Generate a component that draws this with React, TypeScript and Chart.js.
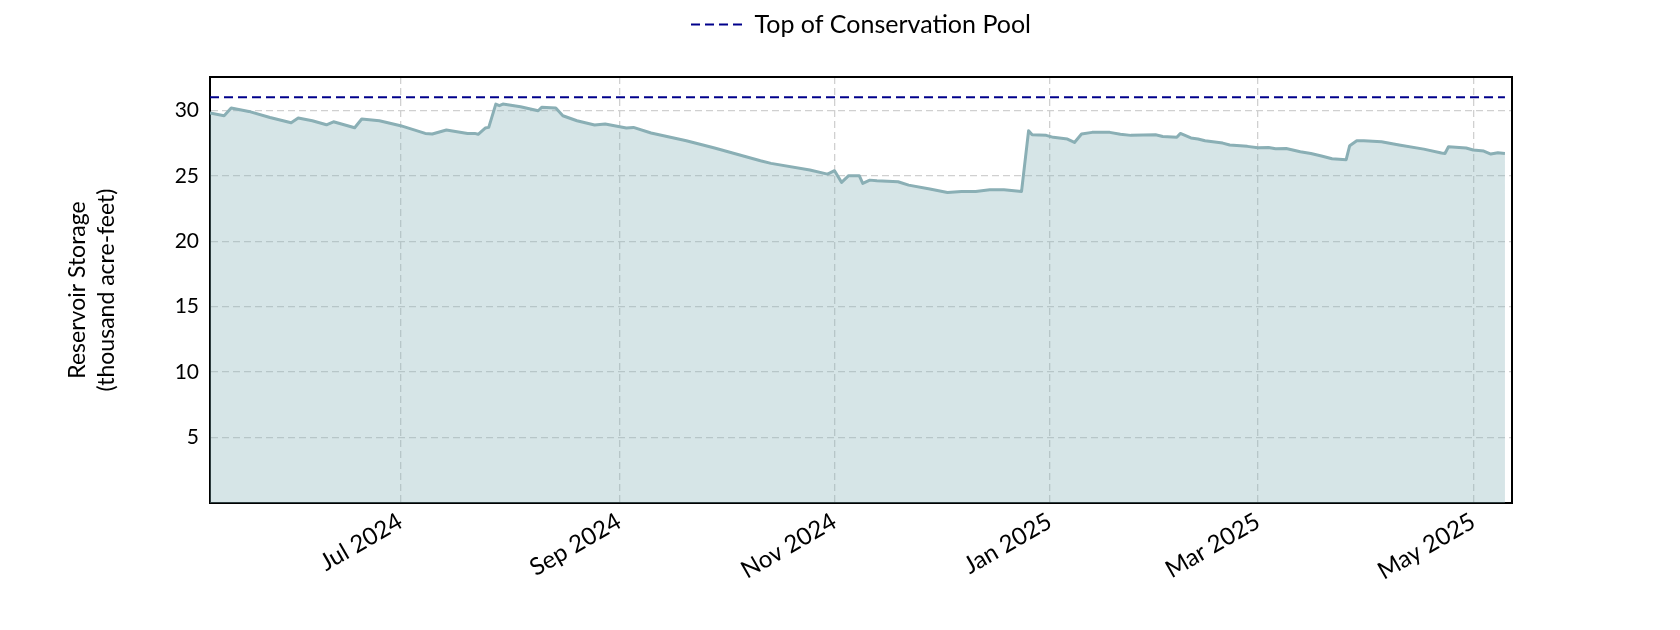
import { useEffect, useRef } from 'react';
import { Chart, registerables } from 'chart.js';

Chart.register(...registerables);

const storageDates = [
  '2024-05-08', '2024-05-12', '2024-05-14', '2024-05-19', '2024-05-25', '2024-05-31',
  '2024-06-02', '2024-06-06', '2024-06-10', '2024-06-12', '2024-06-18', '2024-06-20',
  '2024-06-25', '2024-07-01', '2024-07-08', '2024-07-10', '2024-07-14', '2024-07-20',
  '2024-07-22', '2024-07-23', '2024-07-25', '2024-07-26', '2024-07-28', '2024-07-29',
  '2024-07-30', '2024-08-04', '2024-08-09', '2024-08-10', '2024-08-14', '2024-08-16',
  '2024-08-20', '2024-08-25', '2024-08-28', '2024-09-03', '2024-09-05', '2024-09-10',
  '2024-09-20', '2024-09-28', '2024-10-11', '2024-10-14', '2024-10-25', '2024-10-30',
  '2024-11-01', '2024-11-03', '2024-11-05', '2024-11-08', '2024-11-09', '2024-11-11',
  '2024-11-13', '2024-11-19', '2024-11-22', '2024-11-28', '2024-12-03', '2024-12-07',
  '2024-12-11', '2024-12-15', '2024-12-19', '2024-12-24', '2024-12-26', '2024-12-27',
  '2024-12-31', '2025-01-02', '2025-01-06', '2025-01-08', '2025-01-10', '2025-01-13',
  '2025-01-18', '2025-01-21', '2025-01-24', '2025-01-31', '2025-02-02', '2025-02-06',
  '2025-02-07', '2025-02-10', '2025-02-12', '2025-02-14', '2025-02-19', '2025-02-21',
  '2025-02-26', '2025-03-01', '2025-03-04', '2025-03-06', '2025-03-09', '2025-03-13',
  '2025-03-16', '2025-03-19', '2025-03-22', '2025-03-26', '2025-03-27', '2025-03-29',
  '2025-03-31', '2025-04-05', '2025-04-10', '2025-04-17', '2025-04-22', '2025-04-23',
  '2025-04-24', '2025-04-29', '2025-05-01', '2025-05-04', '2025-05-06', '2025-05-08',
  '2025-05-10',
];

const storageValues = [
  29.80, 29.59, 30.18, 29.92, 29.46, 29.06,
  29.41, 29.21, 28.90, 29.13, 28.67, 29.34,
  29.21, 28.83, 28.24, 28.19, 28.50, 28.24,
  28.24, 28.17, 28.65, 28.70, 30.48, 30.36,
  30.48, 30.28, 29.97, 30.23, 30.18, 29.59,
  29.21, 28.88, 28.96, 28.65, 28.70, 28.27,
  27.68, 27.12, 26.15, 25.95, 25.44, 25.13,
  25.39, 24.50, 25.01, 25.01, 24.42, 24.67,
  24.62, 24.55, 24.29, 23.99, 23.73, 23.81,
  23.81, 23.93, 23.93, 23.81, 28.45, 28.14,
  28.09, 27.94, 27.81, 27.55, 28.19, 28.32,
  28.32, 28.17, 28.09, 28.14, 28.01, 27.94,
  28.24, 27.89, 27.81, 27.68, 27.50, 27.35,
  27.25, 27.15, 27.17, 27.07, 27.09, 26.84,
  26.71, 26.51, 26.30, 26.23, 27.30, 27.68,
  27.68, 27.60, 27.35, 27.04, 26.74, 26.71,
  27.22, 27.12, 26.97, 26.89, 26.66, 26.76,
  26.71,
];

const poolLevel = 31.0;
const poolLabel = 'Top of Conservation Pool';
const storageLabel = 'Reservoir Storage';

const xTickDates = ['2024-07-01', '2024-09-01', '2024-11-01', '2025-01-01', '2025-03-01', '2025-05-01'];
const xTickLabels = ['Jul 2024', 'Sep 2024', 'Nov 2024', 'Jan 2025', 'Mar 2025', 'May 2025'];
const xRange = ['2024-05-08', '2025-05-12'];

const yTickValues = [5, 10, 15, 20, 25, 30];
const yRange = [0, 32.55];
const yTitle = ['Reservoir Storage', '(thousand acre-feet)'];

const FONT = 'Lato, "Noto Sans", sans-serif';
const POOL_DASH = [9, 5];
const GRID_DASH = [7, 4];

const dayNum = (s: string) => {
  const [y, m, d] = s.split('-').map(Number);
  return Date.UTC(y, m - 1, d) / 86400000;
};

export default function App() {
  const canvasRef = useRef<HTMLCanvasElement | null>(null);

  useEffect(() => {
    const canvas = canvasRef.current;
    if (!canvas) return;

    const storageData = storageDates.map((d, i) => ({ x: dayNum(d), y: storageValues[i] }));
    const poolData = [
      { x: dayNum(storageDates[0]), y: poolLevel },
      { x: dayNum(storageDates[storageDates.length - 1]), y: poolLevel },
    ];

    const gridStyle = {
      color: '#d0d0d0',
      lineWidth: 1.3,
      drawTicks: false,
      tickLength: 0,
    };

    const chart = new Chart(canvas, {
      type: 'line',
      data: {
        datasets: [
          {
            label: storageLabel,
            data: storageData,
            borderColor: '#8aafb5',
            backgroundColor: 'rgba(135, 178, 186, 0.34)',
            borderWidth: 3,
            pointRadius: 0,
            tension: 0,
            fill: 'origin',
            borderJoinStyle: 'round',
            order: 2,
          },
          {
            label: poolLabel,
            data: poolData,
            borderColor: '#00008b',
            backgroundColor: '#00008b',
            borderWidth: 2,
            borderDash: POOL_DASH,
            pointRadius: 0,
            fill: false,
            order: 1,
          },
        ],
      },
      options: {
        responsive: false,
        animation: false,
        layout: { padding: { top: 2, left: 0, right: 0, bottom: 0 } },
        plugins: {
          tooltip: { enabled: false },
          legend: {
            display: true,
            position: 'top',
            fullSize: false,
            labels: {
              filter: (item: any) => item.datasetIndex === 1,
              usePointStyle: true,
              pointStyle: 'line',
              pointStyleWidth: 51,
              padding: 10,
              color: '#000000',
              font: { family: FONT, size: 25 },
              generateLabels: (ch: any) => {
                const items = Chart.defaults.plugins.legend.labels.generateLabels(ch);
                return items.map((it: any) => {
                  const ds = ch.data.datasets[it.datasetIndex];
                  return {
                    ...it,
                    lineDash: ds.borderDash || [],
                    lineWidth: ds.borderWidth,
                    strokeStyle: ds.borderColor,
                    fillStyle: ds.borderColor,
                  };
                });
              },
            },
          },
        },
        scales: {
          x: {
            type: 'linear',
            position: 'bottom',
            min: dayNum(xRange[0]),
            max: dayNum(xRange[1]),
            afterBuildTicks: (scale: any) => {
              scale.ticks = xTickDates.map((d) => ({ value: dayNum(d) }));
            },
            afterFit: (scale: any) => {
              scale.height = 127;
            },
            ticks: {
              autoSkip: false,
              minRotation: 30,
              maxRotation: 30,
              padding: 4,
              color: '#000000',
              font: { family: FONT, size: 24 },
              callback: (_v: any, i: number) => xTickLabels[i],
            },
            grid: gridStyle,
            border: { display: true, color: '#000000', width: 2, dash: GRID_DASH },
          },
          x2: {
            type: 'linear',
            position: 'top',
            min: 0,
            max: 1,
            afterFit: (scale: any) => {
              scale.height = 30;
            },
            ticks: { display: false },
            grid: { display: false, drawTicks: false },
            border: { display: true, color: '#000000', width: 2 },
          },
          y: {
            type: 'linear',
            position: 'left',
            min: yRange[0],
            max: yRange[1],
            afterBuildTicks: (scale: any) => {
              scale.ticks = yTickValues.map((v) => ({ value: v }));
            },
            afterFit: (scale: any) => {
              scale.width = 210;
            },
            ticks: {
              padding: 11,
              color: '#000000',
              font: { family: FONT, size: 21 },
            },
            grid: gridStyle,
            border: { display: true, color: '#000000', width: 2, dash: GRID_DASH },
            title: {
              display: true,
              text: yTitle,
              color: '#000000',
              font: { family: FONT, size: 23, lineHeight: 29 / 23 },
              padding: { top: 63.5, bottom: 0 },
            },
          },
          y2: {
            type: 'linear',
            position: 'right',
            min: 0,
            max: 1,
            afterFit: (scale: any) => {
              scale.width = 168;
            },
            ticks: { display: false },
            grid: { display: false, drawTicks: false },
            border: { display: true, color: '#000000', width: 2 },
          },
        },
      } as any,
    });

    return () => {
      chart.destroy();
    };
  }, []);

  return (
    <div style={{ position: 'fixed', left: 0, top: 0, width: 1680, height: 630, background: '#ffffff' }}>
      <canvas ref={canvasRef} width={1680} height={630} style={{ display: 'block' }} />
    </div>
  );
}
